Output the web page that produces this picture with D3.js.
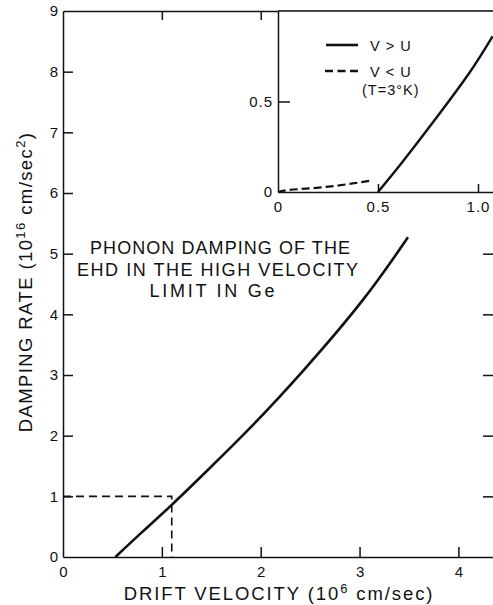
<!DOCTYPE html>
<html>
<head>
<meta charset="utf-8">
<script src="https://cdn.jsdelivr.net/npm/d3@7"></script>
<style>
  html, body { margin: 0; padding: 0; background: #fff; }
  svg { display: block; font-family: "Liberation Sans", Arial, sans-serif; }
  .axis path, .axis line { stroke: #111; stroke-width: 1.5; }
  .axis text { fill: #111; font-size: 15px; font-family: "Liberation Sans", Arial, sans-serif; }
</style>
</head>
<body>
<svg id="chart" width="493" height="605"></svg>
<script>
// ---- data ----
const mainVelocity = [0.53, 0.8, 1.1, 1.5, 1.9, 2.44, 3.04, 3.49];
const mainRate     = [0, 0.41, 0.86, 1.49, 2.14, 3.09, 4.25, 5.27];

const boxVelocity = [0, 1.1, 1.1];
const boxRate     = [1, 1, 0];

const insetHighVelocity = [0.5, 0.625, 0.792, 0.958, 1.073];
const insetHighRate     = [0, 0.17, 0.41, 0.66, 0.86];

const insetLowVelocity = [0, 0.06, 0.24, 0.46];
const insetLowRate     = [0, 0.012, 0.028, 0.062];

const mainXTicks = [0, 1, 2, 3, 4];
const mainYTicks = [0, 1, 2, 3, 4, 5, 6, 7, 8, 9];
const rightYTicks = [1, 2, 3, 4, 5];
const topXTicks = [1, 2];
const insetXTicks = [0, 0.5, 1.0];
const insetXLabels = ["0", "0.5", "1.0"];
const insetYTicks = [0, 0.5];
const insetYLabels = ["0", "0.5"];

const annotation = ["PHONON DAMPING OF THE", "EHD IN THE HIGH VELOCITY", "LIMIT IN Ge"];
const legendLabels = ["V > U", "V < U", "(T=3°K)"];

// ---- layout ----
const svg = d3.select("#chart");
const ink = "#111";

const x = d3.scaleLinear().domain([0, 4.35]).range([63, 493]);
const y = d3.scaleLinear().domain([0, 9]).range([557, 11]);
const xi = d3.scaleLinear().domain([0, 1.075]).range([278, 493]);
const yi = d3.scaleLinear().domain([0, 1]).range([192, 11]);

const zip = (a, b) => a.map((v, i) => [v, b[i]]);

// main axes
svg.append("g").attr("class", "axis").attr("transform", `translate(0,${y(0)})`)
  .call(d3.axisBottom(x).tickValues(mainXTicks).tickSize(-10).tickSizeOuter(0).tickPadding(9).tickFormat(d3.format("d")))
  .call(g => g.selectAll(".tick").filter(d => d === 0).select("line").remove());

svg.append("g").attr("class", "axis").attr("transform", `translate(${x(0)},0)`)
  .call(d3.axisLeft(y).tickValues(mainYTicks).tickSize(-10).tickSizeOuter(0).tickPadding(5).tickFormat(d3.format("d")))
  .call(g => g.selectAll(".tick").filter(d => d === 0 || d === 9).select("line").remove());

svg.append("g").attr("class", "axis").attr("transform", `translate(0,${y(9)})`)
  .call(d3.axisTop(x).tickValues(topXTicks).tickSize(-9).tickSizeOuter(0).tickFormat(""));

svg.append("g").attr("class", "axis").attr("transform", `translate(495,0)`)
  .call(d3.axisRight(y).tickValues(rightYTicks).tickSize(-12).tickSizeOuter(0).tickFormat(""));

// dashed box
const boxLine = d3.line().x(d => x(d[0])).y(d => y(d[1]));
svg.append("path").datum(zip(boxVelocity, boxRate))
  .attr("d", boxLine).attr("fill", "none").attr("stroke", ink)
  .attr("stroke-width", 1.6).attr("stroke-dasharray", "8,5");

// main curve
const mainLine = d3.line().x(d => x(d[0])).y(d => y(d[1])).curve(d3.curveNatural);
svg.append("path").datum(zip(mainVelocity, mainRate))
  .attr("d", mainLine).attr("fill", "none")
  .attr("stroke", ink).attr("stroke-width", 2.6);

// annotation
const ann = svg.append("text").attr("fill", ink).attr("font-size", 18).attr("text-anchor", "middle");
const annY = [254, 276, 297];
const annX = [220, 217.5, 212];
const annLen = [260, 281, 125];
annotation.forEach((t, i) => {
  ann.append("tspan").attr("x", annX[i]).attr("y", annY[i])
    .attr("textLength", annLen[i]).attr("lengthAdjust", "spacing").text(t);
});

// x title
const xt = svg.append("text").attr("fill", ink).attr("font-size", 18.5)
  .attr("x", 279).attr("y", 600).attr("text-anchor", "middle")
  .style("letter-spacing", "1.9px");
xt.append("tspan").text("DRIFT VELOCITY (10");
xt.append("tspan").attr("dy", -7).attr("font-size", 13).text("6");
xt.append("tspan").attr("dy", 7).text(" cm/sec)");

// y title
const yt = svg.append("text").attr("fill", ink).attr("font-size", 18.5)
  .attr("transform", "translate(32,282) rotate(-90)").attr("text-anchor", "middle")
  .style("letter-spacing", "1.4px");
yt.append("tspan").text("DAMPING RATE (10");
yt.append("tspan").attr("dy", -7).attr("font-size", 13).text("16");
yt.append("tspan").attr("dy", 7).text(" cm/sec");
yt.append("tspan").attr("dy", -7).attr("font-size", 13).text("2");
yt.append("tspan").attr("dy", 7).text(")");

// ---- inset ----
svg.append("rect").attr("x", xi(0)).attr("y", yi(1)).attr("width", 493 - xi(0) + 5)
  .attr("height", yi(0) - yi(1)).attr("fill", "#fff");
svg.append("line").attr("x1", xi(0)).attr("x2", 495).attr("y1", yi(1)).attr("y2", yi(1))
  .attr("stroke", ink).attr("stroke-width", 1.5);

const iax = svg.append("g").attr("class", "axis").attr("transform", `translate(0,${yi(0)})`)
  .call(d3.axisBottom(xi).tickValues(insetXTicks).tickSize(-8).tickSizeOuter(0).tickPadding(9)
    .tickFormat((d, i) => insetXLabels[i]))
  .call(g => g.selectAll(".tick").filter(d => d === 0).select("line").remove());
iax.selectAll("text").attr("font-size", 16).style("letter-spacing", "1px");

const iay = svg.append("g").attr("class", "axis").attr("transform", `translate(${xi(0)},0)`)
  .call(d3.axisLeft(yi).tickValues(insetYTicks).tickSize(-12).tickSizeOuter(0).tickPadding(5)
    .tickFormat((d, i) => insetYLabels[i]))
  .call(g => g.selectAll(".tick").filter(d => d === 0).select("line").remove());
iay.selectAll("text").attr("font-size", 16).style("letter-spacing", "1px");

const iline = d3.line().x(d => xi(d[0])).y(d => yi(d[1])).curve(d3.curveNatural);
svg.append("path").datum(zip(insetHighVelocity, insetHighRate))
  .attr("d", iline).attr("fill", "none")
  .attr("stroke", ink).attr("stroke-width", 2.4);
svg.append("path").datum(zip(insetLowVelocity, insetLowRate))
  .attr("d", iline).attr("fill", "none").attr("stroke", ink).attr("stroke-width", 2.2)
  .attr("stroke-dasharray", "8,4");

// legend
const leg = svg.append("g");
leg.append("line").attr("x1", 326).attr("x2", 358).attr("y1", 45).attr("y2", 45)
  .attr("stroke", ink).attr("stroke-width", 2.6);
leg.append("line").attr("x1", 325).attr("x2", 358).attr("y1", 71).attr("y2", 71)
  .attr("stroke", ink).attr("stroke-width", 2.4).attr("stroke-dasharray", "8,4.5");
leg.append("text").attr("x", 370).attr("y", 51).attr("font-size", 14.5).attr("fill", ink)
  .style("letter-spacing", "1px").text(legendLabels[0]);
leg.append("text").attr("x", 370).attr("y", 77).attr("font-size", 14.5).attr("fill", ink)
  .style("letter-spacing", "1px").text(legendLabels[1]);
leg.append("text").attr("x", 362).attr("y", 95).attr("font-size", 14.5).attr("fill", ink)
  .style("letter-spacing", "1px").text(legendLabels[2]);
</script>
</body>
</html>
